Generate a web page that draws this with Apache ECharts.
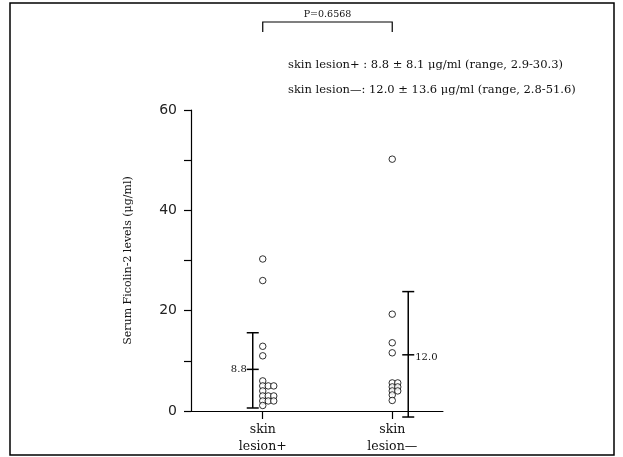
<!DOCTYPE html>
<html>
<head>
<meta charset="utf-8">
<script src="https://cdn.jsdelivr.net/npm/echarts@6/dist/echarts.min.js"></script>
<style>
html,body{margin:0;padding:0;background:#fff}
#main{width:623px;height:457px}
</style>
</head>
<body>
<div id="main"></div>
<script>
// data
var groups = ['skin\nlesion+', 'skin\nlesion\u2014'];
var lesionPos = [30.3, 26.0, 12.9, 11.0, 6.0, 5.0, 5.0, 5.0, 4.0, 3.0, 3.0, 3.0, 2.0, 2.0, 2.0, 1.1];
var lesionNeg = [50.2, 19.3, 13.6, 11.6, 5.6, 5.6, 4.8, 4.8, 4.0, 4.0, 3.2, 2.1];
var errLow = [0.6, -1.2];
var errMean = [8.3, 11.2];
var errHigh = [15.6, 23.8];
var meanLabels = ['8.8', '12.0'];
var pText = 'P=0.6568';
var summary = [
  'skin lesion+ : 8.8 \u00B1 8.1 \u03BCg/ml (range, 2.9-30.3)',
  'skin lesion\u2014: 12.0 \u00B1 13.6 \u03BCg/ml (range, 2.8-51.6)'
];

var serif = '"DejaVu Serif", "Liberation Serif", serif';
var chart = echarts.init(document.getElementById('main'));

chart.setOption({
  animation: false,
  backgroundColor: '#fff',
  grid: { left: 191, right: 180, top: 110, bottom: 46 },
  xAxis: {
    type: 'value', min: 0.446, max: 2.392,
    splitLine: { show: false },
    axisLine: { lineStyle: { color: '#000', width: 1 } },
    axisTick: { customValues: [1, 2], length: 8, lineStyle: { color: '#000', width: 1.2 } },
    axisLabel: {
      customValues: [1, 2], margin: 10,
      formatter: function (v) { return groups[Math.round(v) - 1] || ''; },
      fontFamily: serif, fontSize: 12.5, lineHeight: 17, color: '#111'
    }
  },
  yAxis: {
    type: 'value', min: 0, max: 60, interval: 10,
    name: 'Serum Ficolin-2 levels (\u03BCg/ml)',
    nameLocation: 'middle', nameGap: 57,
    nameTextStyle: { fontFamily: serif, fontSize: 11, color: '#111' },
    splitLine: { show: false },
    axisLine: { show: true, lineStyle: { color: '#000', width: 1.2 } },
    axisTick: { show: true, length: 7, lineStyle: { color: '#000', width: 1.2 } },
    axisLabel: {
      formatter: function (v) { return v % 20 === 0 ? v : ''; },
      fontFamily: '"DejaVu Sans", sans-serif', fontSize: 14, color: '#222', margin: 14
    }
  },
  series: []
});

// simple beeswarm: push touching dots sideways
function swarm(vals, xi) {
  var placed = [];
  var step = 5.5;
  return vals.map(function (v) {
    var py = chart.convertToPixel({ yAxisIndex: 0 }, v);
    var k = 0;
    while (placed.some(function (p) { return Math.abs(p[0] - k * step) < 5 && Math.abs(p[1] - py) < 4; })) k++;
    placed.push([k * step, py]);
    return { value: [xi, v], symbolOffset: [k * step, 0] };
  });
}

var dotStyle = { color: '#fff', borderColor: '#000', borderWidth: 1 };

var x1 = chart.convertToPixel({ xAxisIndex: 0 }, 1);
var x2 = chart.convertToPixel({ xAxisIndex: 0 }, 2);

chart.setOption({
  series: [
    { type: 'scatter', symbol: 'circle', symbolSize: 6.5, itemStyle: dotStyle, data: swarm(lesionPos, 1), z: 3 },
    { type: 'scatter', symbol: 'circle', symbolSize: 6.5, itemStyle: dotStyle, data: swarm(lesionNeg, 2), z: 3 },
    {
      type: 'custom', clip: false, z: 4,
      data: errLow.map(function (l, i) { return [i + 1, l, errMean[i], errHigh[i]]; }),
      encode: { x: 0, y: [1, 2, 3] },
      renderItem: function (params, api) {
        var i = params.dataIndex;
        var shift = i === 0 ? -10 : 16;
        var x = api.coord([api.value(0), 0])[0] + shift;
        var lo = api.coord([api.value(0), api.value(1)])[1];
        var mid = api.coord([api.value(0), api.value(2)])[1];
        var hi = api.coord([api.value(0), api.value(3)])[1];
        var st = { stroke: '#000', lineWidth: 1.5 };
        return {
          type: 'group',
          children: [
            { type: 'line', shape: { x1: x, y1: lo, x2: x, y2: hi }, style: st },
            { type: 'line', shape: { x1: x - 6, y1: hi, x2: x + 6, y2: hi }, style: st },
            { type: 'line', shape: { x1: x - 6, y1: lo, x2: x + 6, y2: lo }, style: st },
            { type: 'line', shape: { x1: x - 6, y1: mid, x2: x + 6, y2: mid }, style: st },
            {
              type: 'text',
              style: {
                text: meanLabels[i],
                x: i === 0 ? x - 6 : x + 7, y: i === 0 ? mid : mid + 3,
                align: i === 0 ? 'right' : 'left', verticalAlign: 'middle',
                font: '10px ' + serif, fill: '#111'
              }
            }
          ]
        };
      }
    }
  ],
  graphic: [
    { type: 'rect', shape: { x: 10, y: 3, width: 604, height: 452 }, style: { fill: null, stroke: '#000', lineWidth: 1.5 }, z: 10 },
    { type: 'text', style: { text: pText, x: (x1 + x2) / 2, y: 15, align: 'center', verticalAlign: 'middle', font: '9.5px ' + serif, fill: '#111' } },
    { type: 'polyline', shape: { points: [[x1, 32], [x1, 22], [x2, 22], [x2, 32]] }, style: { fill: null, stroke: '#000', lineWidth: 1.2 } },
    { type: 'text', style: { text: summary[0], x: 288, y: 65, verticalAlign: 'middle', font: '11.5px ' + serif, fill: '#111' } },
    { type: 'text', style: { text: summary[1], x: 288, y: 90, verticalAlign: 'middle', font: '11.5px ' + serif, fill: '#111' } }
  ]
});
</script>
</body>
</html>
